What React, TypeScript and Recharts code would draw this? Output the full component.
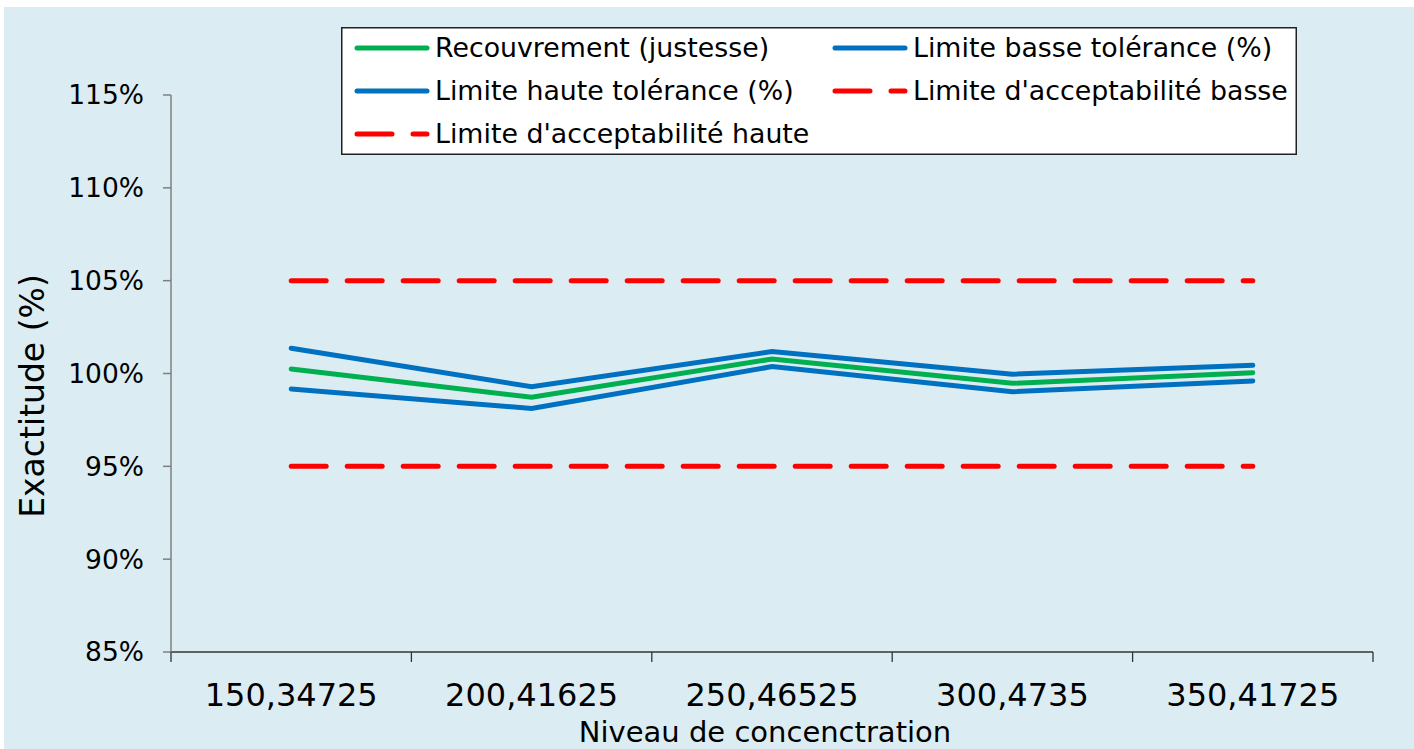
import { LineChart, Line, XAxis, YAxis } from 'recharts';

const categories = ['150,34725', '200,41625', '250,46525', '300,4735', '350,41725'];
const recouvrement = [100.24, 98.72, 100.78, 99.47, 100.04];
const limiteBasseTol = [99.17, 98.12, 100.37, 99.02, 99.6];
const limiteHauteTol = [101.36, 99.29, 101.18, 99.96, 100.44];
const acceptBasse = [95, 95, 95, 95, 95];
const acceptHaute = [105, 105, 105, 105, 105];
const yTicks = [85, 90, 95, 100, 105, 110, 115];

const series = [
  { key: 'rec', name: 'Recouvrement (justesse)', color: '#00B050', dashed: false },
  { key: 'basseTol', name: 'Limite basse tolérance (%)', color: '#0070C0', dashed: false },
  { key: 'hauteTol', name: 'Limite haute tolérance (%)', color: '#0070C0', dashed: false },
  { key: 'accBasse', name: "Limite d'acceptabilité basse", color: '#FF0000', dashed: true },
  { key: 'accHaute', name: "Limite d'acceptabilité haute", color: '#FF0000', dashed: true },
];

const data = categories.map((c, i) => ({
  niveau: c,
  rec: recouvrement[i],
  basseTol: limiteBasseTol[i],
  hauteTol: limiteHauteTol[i],
  accBasse: acceptBasse[i],
  accHaute: acceptHaute[i],
}));

const W = 1410;
const H = 742;
const PLOT_LEFT = 167;
const PLOT_RIGHT = 1369;
const PLOT_TOP = 88;
const PLOT_BOTTOM = 645;
const BAND = (PLOT_RIGHT - PLOT_LEFT) / categories.length;
const DASH = '35 21';

function XTick(props: any) {
  const { x, payload, index } = props;
  return (
    <g>
      <line x1={x - BAND / 2} x2={x - BAND / 2} y1={PLOT_BOTTOM} y2={PLOT_BOTTOM + 10} stroke="#333" strokeWidth={1.3} />
      {index === categories.length - 1 && (
        <line x1={x + BAND / 2} x2={x + BAND / 2} y1={PLOT_BOTTOM} y2={PLOT_BOTTOM + 10} stroke="#333" strokeWidth={1.3} />
      )}
      <text x={x} y={PLOT_BOTTOM + 54} textAnchor="middle" fontSize={32} fill="#000">
        {payload.value}
      </text>
    </g>
  );
}

function LegendBox() {
  const rows = [
    [series[0], series[1]],
    [series[2], series[3]],
    [series[4]],
  ];
  const rowY = [21, 64, 107];
  const colX = [16, 494];
  return (
    <svg width={956} height={128} style={{ position: 'absolute', left: 337, top: 20 }}>
      <rect x={0.75} y={0.75} width={954.5} height={126.5} fill="#fff" stroke="#222" strokeWidth={1.5} />
      {rows.map((row, r) =>
        row.map((s, c) => (
          <g key={s.key}>
            <line
              x1={colX[c]}
              x2={colX[c] + 70}
              y1={rowY[r]}
              y2={rowY[r]}
              stroke={s.color}
              strokeWidth={5}
              strokeLinecap="round"
              strokeDasharray={s.dashed ? DASH : undefined}
            />
            <text x={colX[c] + 78} y={rowY[r] + 9} fontSize={26.8} fill="#000">
              {s.name}
            </text>
          </g>
        ))
      )}
    </svg>
  );
}

export default function App() {
  return (
    <div
      style={{
        position: 'absolute',
        left: 4,
        top: 7,
        width: W,
        height: H,
        background: '#DBEDF3',
        fontFamily: '"DejaVu Sans", Verdana, sans-serif',
      }}
    >
      <LineChart width={W} height={H} data={data} margin={{ top: PLOT_TOP, right: W - PLOT_RIGHT, left: 0, bottom: 0 }}>
        <XAxis
          dataKey="niveau"
          scale="band"
          interval={0}
          height={H - PLOT_BOTTOM}
          stroke="#333"
          strokeWidth={1.3}
          tickLine={false}
          tick={<XTick />}
          label={{
            content: () => (
              <text x={761} y={735} textAnchor="middle" fontSize={29} fill="#000">
                Niveau de concenctration
              </text>
            ),
          }}
        />
        <YAxis
          width={PLOT_LEFT}
          domain={[85, 115]}
          ticks={yTicks}
          tickFormatter={(v) => `${v}%`}
          stroke="#7F7F7F"
          strokeWidth={1.5}
          tickSize={8}
          tickMargin={19}
          tick={{ fill: '#000', fontSize: 26.5 }}
          label={{
            content: () => (
              <text x={40} y={389} transform="rotate(-90, 40, 389)" textAnchor="middle" fontSize={33} fill="#000">
                Exactitude (%)
              </text>
            ),
          }}
        />
        {series.map((s) => (
          <Line
            key={s.key}
            dataKey={s.key}
            name={s.name}
            stroke={s.color}
            strokeWidth={5}
            strokeLinecap="round"
            strokeDasharray={s.dashed ? DASH : undefined}
            dot={false}
            activeDot={false}
            isAnimationActive={false}
          />
        ))}
      </LineChart>
      <LegendBox />
    </div>
  );
}
